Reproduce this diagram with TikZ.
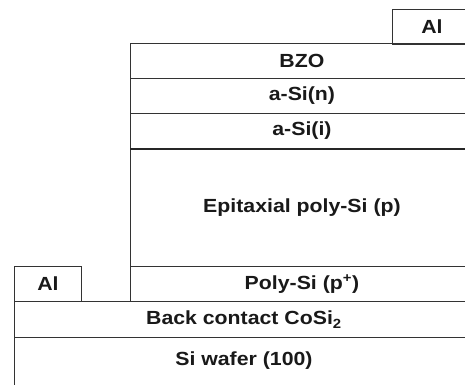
\documentclass[tikz,border=0pt]{standalone}
\usepackage{fontspec}
\setmainfont{Liberation Sans}[BoldFeatures={FakeStretch=1.12}]
\begin{document}
\begin{tikzpicture}[x=1pt,y=-1pt,
  lbl/.style={font=\fontsize{19}{21}\selectfont\bfseries, text=black!90},
  layer/.style={lbl, draw=black!80, line width=0.9pt, anchor=north west, inner sep=0pt},
]
\clip (0,0) rectangle (465,384);
\fill[white] (0,0) rectangle (465,384);
\node[layer, minimum width=80pt, minimum height=35pt] (altop) at (392,9) {};
\node[lbl] (altoplbl) at (432,26.5) {Al};
\node[layer, minimum width=343pt, minimum height=35pt] (bzo) at (130,43) {BZO};
\node[layer, minimum width=343pt, minimum height=35pt] (asin) at (130,78) {a-Si(n)};
\node[layer, minimum width=343pt, minimum height=35pt] (asii) at (130,113) {a-Si(i)};
\node[layer, minimum width=343pt, minimum height=118pt] (epi) at (130,148) {Epitaxial poly-Si (p)};
\node[layer, minimum width=343pt, minimum height=35pt] (poly) at (130,266) {Poly-Si (p\textsuperscript{+})};
\node[layer, minimum width=67pt, minimum height=35pt] (albot) at (14,266) {Al};
\node[layer, minimum width=459pt, minimum height=36pt] (back) at (14,301) {Back contact CoSi\textsubscript{2}};
\node[layer, minimum width=459pt, minimum height=50pt, text depth=8pt] (wafer) at (14,337) {Si wafer (100)};
\draw[black!85, line width=1.8pt] (asii.south west) -- (asii.south east);
\end{tikzpicture}
\end{document}
